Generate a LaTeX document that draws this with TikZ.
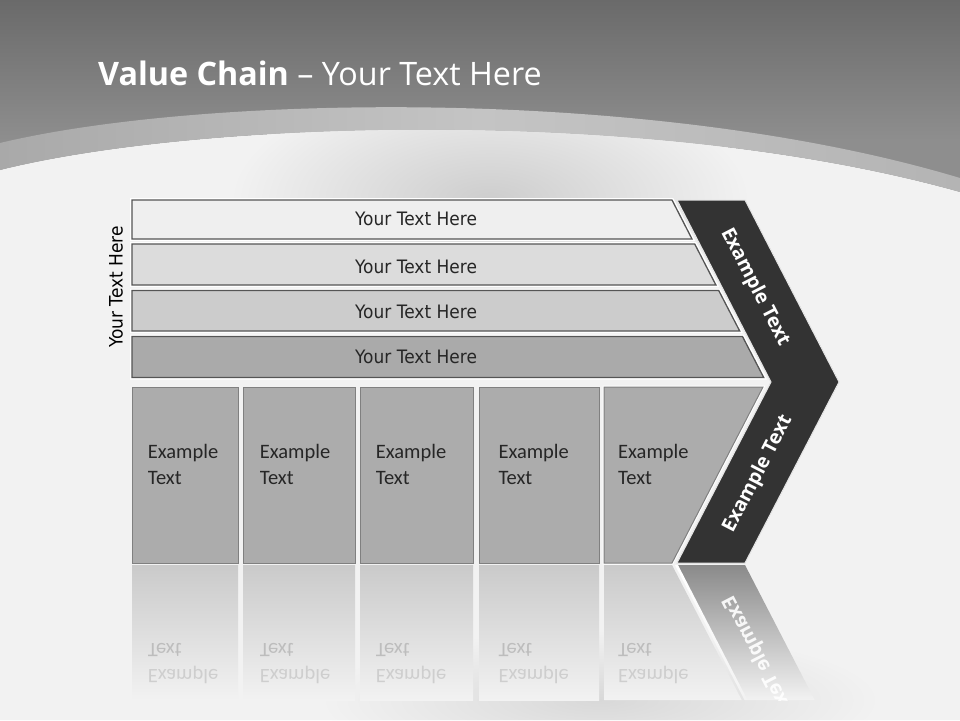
\documentclass[tikz,border=0pt]{standalone}
\usepackage{fontspec}
\setmainfont{Open Sans}
\newfontfamily\stripfont[FakeStretch=0.92]{DejaVu Sans}
\newfontfamily\colfont{Carlito}
\definecolor{topA}{HTML}{6A6A6A}
\definecolor{topB}{HTML}{8E8E8E}
\definecolor{bandA}{HTML}{A9A9A9}
\definecolor{bandB}{HTML}{C4C4C4}
\definecolor{bandC}{HTML}{B4B4B4}
\definecolor{bgw}{HTML}{F2F2F2}
\definecolor{glow}{HTML}{CDCDCD}
\definecolor{sOne}{HTML}{EFEFEF}
\definecolor{sTwo}{HTML}{DCDCDC}
\definecolor{sThree}{HTML}{CCCCCC}
\definecolor{sFour}{HTML}{AAAAAA}
\definecolor{colfill}{HTML}{ACACAC}
\definecolor{colline}{HTML}{808080}
\definecolor{stripline}{HTML}{555555}
\definecolor{chev}{HTML}{333333}
\definecolor{txt}{HTML}{262626}
\definecolor{reflA}{HTML}{CACACA}
\definecolor{reflChev}{HTML}{8A8A8A}
\definecolor{reflTxtA}{HTML}{BDBDBD}
\definecolor{reflTxtB}{HTML}{CECECE}
\tikzset{
  stripbox/.style={draw=stripline, line width=1.3pt},
  glowline/.style={draw=white, line width=4pt},
  colbox/.style={fill=colfill, draw=colline, line width=1pt},
  striplabel/.style={anchor=base, inner sep=0pt, text=txt, font=\stripfont\fontsize{18.5}{22}\selectfont},
  collabel/.style={anchor=north west, inner sep=0pt, align=left, text=txt, font=\colfont\fontsize{20.5}{26}\selectfont},
  refllabel/.style={anchor=north west, inner sep=0pt, align=left, font=\colfont\fontsize{20.5}{26}\selectfont, yscale=-1},
  chevlabel/.style={inner sep=0pt, text=white, font=\bfseries\fontsize{19.5}{24}\selectfont},
  reflbox/.style={top color=reflA, bottom color=bgw},
}
\begin{document}
\begin{tikzpicture}[x=1pt,y=-1pt]
\useasboundingbox (0,0) rectangle (960,720);
% ---------- background ----------
\fill[topB] (0,0) rectangle (960,200);
\shade[top color=topA, bottom color=topB] (0,0) rectangle (960,140);
\fill[bgw] (0,170) .. controls (200,120) and (650,105) .. (960,192) -- (960,720) -- (0,720) -- cycle;
\begin{scope}
  \clip (0,170) .. controls (200,120) and (650,105) .. (960,192) -- (960,720) -- (0,720) -- cycle;
  \shade[inner color=glow, outer color=bgw] (490,200) ellipse (260 and 120);
  \shade[inner color=glow!70!bgw, outer color=bgw] (600,700) ellipse (280 and 70);
\end{scope}
\shade[left color=bandA, right color=bandC, middle color=bandB]
  (0,143) .. controls (200,95) and (650,85) .. (960,178) -- (960,192)
  .. controls (650,105) and (200,120) .. (0,170) -- cycle;
% ---------- title ----------
\node[anchor=base west, inner sep=0pt, text=white, font=\fontsize{32.3}{38}\selectfont]
  (title) at (98,85) {\textbf{Value Chain} -- Your Text Here};
% ---------- reflections ----------
\path[reflbox] (132,565) rectangle (238,700);
\path[reflbox] (243,565) rectangle (355,700);
\path[reflbox] (360,565) rectangle (473,700);
\path[reflbox] (479,565) rectangle (599,700);
\path[reflbox] (604,565) -- (672,565) -- (741.7,700) -- (604,700) -- cycle;
\node[refllabel] (r1) at (147.7,684) {\textcolor{reflTxtB}{Example}\\\textcolor{reflTxtA}{Text}};
\node[refllabel] (r2) at (259.7,684) {\textcolor{reflTxtB}{Example}\\\textcolor{reflTxtA}{Text}};
\node[refllabel] (r3) at (375.7,684) {\textcolor{reflTxtB}{Example}\\\textcolor{reflTxtA}{Text}};
\node[refllabel] (r4) at (498.3,684) {\textcolor{reflTxtB}{Example}\\\textcolor{reflTxtA}{Text}};
\node[refllabel] (r5) at (618,684) {\textcolor{reflTxtB}{Example}\\\textcolor{reflTxtA}{Text}};
\shade[top color=reflChev, bottom color=bgw]
  (677,565) -- (745,565) -- (814.7,700) -- (746.7,700) -- cycle;
\begin{scope}
  \clip (677,565) -- (745,565) -- (814.7,700) -- (746.7,700) -- cycle;
  \node[chevlabel, rotate=-62.7, yscale=-1, opacity=0.9] (rc) at (758,654) {Example Text};
\end{scope}
\shade[top color=white, bottom color=bgw] (675,565) -- (678,565) -- (747.5,700) -- (744.5,700) -- cycle;
% ---------- strips ----------
\path[glowline] (132,200) -- (672,200) -- (692,239) -- (132,239) -- cycle;
\path[glowline] (132,244) -- (694.7,244) -- (715.9,285) -- (132,285) -- cycle;
\path[glowline] (132,290.5) -- (718.7,290.5) -- (739.7,331) -- (132,331) -- cycle;
\path[glowline] (132,336.5) -- (742.5,336.5) -- (763.7,377.5) -- (132,377.5) -- cycle;
\path[stripbox, fill=sOne] (132,200) -- (672,200) -- (692,239) -- (132,239) -- cycle;
\path[stripbox, fill=sTwo] (132,244) -- (694.7,244) -- (715.9,285) -- (132,285) -- cycle;
\path[stripbox, fill=sThree] (132,290.5) -- (718.7,290.5) -- (739.7,331) -- (132,331) -- cycle;
\path[stripbox, fill=sFour] (132,336.5) -- (742.5,336.5) -- (763.7,377.5) -- (132,377.5) -- cycle;
\node[striplabel] (s1) at (416,225.7) {Your Text Here};
\node[striplabel] (s2) at (416,273.3) {Your Text Here};
\node[striplabel] (s3) at (416,318.3) {Your Text Here};
\node[striplabel] (s4) at (416,363.3) {Your Text Here};
\node[anchor=base, inner sep=0pt, rotate=90, text=black, font=\stripfont\fontsize{18.5}{22}\selectfont]
  (side) at (122.5,287) {Your Text Here};
% ---------- columns ----------
\path[glowline, line width=3pt] (604,387) -- (763,387) -- (672,563) -- (604,563) -- cycle;
\path[colbox] (132,387) rectangle (238,563);
\path[colbox] (243,387) rectangle (355,563);
\path[colbox] (360,387) rectangle (473,563);
\path[colbox] (479,387) rectangle (599,563);
\path[colbox] (604,387) -- (763,387) -- (672,563) -- (604,563) -- cycle;
\node[collabel] (c1) at (147.7,444) {Example\\Text};
\node[collabel] (c2) at (259.7,444) {Example\\Text};
\node[collabel] (c3) at (375.7,444) {Example\\Text};
\node[collabel] (c4) at (498.3,444) {Example\\Text};
\node[collabel] (c5) at (618,444) {Example\\Text};
% ---------- chevron ----------
\path[fill=chev, draw=white!80!gray, line width=1pt]
  (677,200) -- (745,200) -- (839,382) -- (745,563) -- (677,563) -- (771,382) -- cycle;
\node[chevlabel, rotate=-62.7] (ch1) at (755,287) {Example Text};
\node[chevlabel, rotate=62.7] (ch2) at (758,474) {Example Text};
\end{tikzpicture}
\end{document}
